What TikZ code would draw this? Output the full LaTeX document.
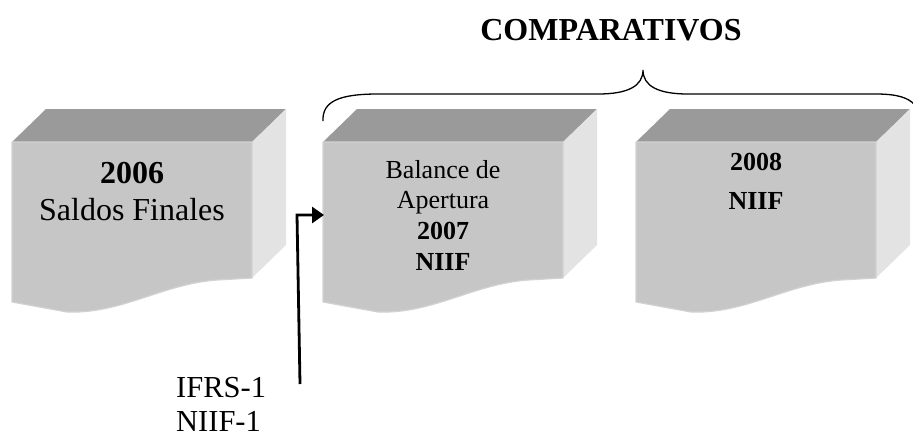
\documentclass[tikz,border=0pt]{standalone}
\usepackage{fontspec}
\setmainfont{Liberation Serif}
\usetikzlibrary{arrows.meta}
\definecolor{frontgray}{HTML}{C6C6C6}
\definecolor{topgray}{HTML}{9A9A9A}
\definecolor{sidegray}{HTML}{E3E3E3}
\definecolor{bevel}{HTML}{D2D2D2}
\tikzset{
  docbox/.pic={
    \fill[topgray] (0,0) -- (34,-33) -- (274,-33) -- (240,0) -- cycle;
    \fill[sidegray] (240,0) -- (274,-33) -- (274,103) -- (240,136) -- cycle;
    \filldraw[fill=frontgray, draw=bevel, line width=1.2pt, line join=round]
      (0,0) -- (240,0) -- (240,136) -- (205,138)
      .. controls (150,142) and (110,172) .. (55,170) -- (0,160) -- cycle;
  },
  big/.style={font=\fontsize{32}{36}\selectfont, inner sep=0pt, anchor=base},
  mid/.style={font=\fontsize{26}{30}\selectfont, inner sep=0pt, anchor=base},
  lbl/.style={font=\fontsize{30.5}{35}\selectfont, inner sep=0pt, anchor=base west},
  conn/.style={line width=2.8pt, line join=miter, -{Triangle[length=12pt,width=16pt]}},
  bracestyle/.style={line width=1.3pt}
}
\begin{document}
\begin{tikzpicture}[x=1pt, y=-1pt]
\useasboundingbox (0,0) rectangle (913,437);
% boxes
\pic at (12,142) {docbox};
\pic at (323,142) {docbox};
\pic at (636,142) {docbox};
% box texts
\node[big, font=\fontsize{32}{36}\selectfont\bfseries] (t2006) at (132,183) {2006};
\node[big] (tsaldos) at (132,220) {Saldos Finales};
\node[mid] (tbal) at (443,178) {Balance de};
\node[mid] (tap) at (443,208) {Apertura};
\node[mid, font=\fontsize{26}{30}\selectfont\bfseries] (t2007) at (443,239) {2007};
\node[mid, font=\fontsize{26}{30}\selectfont\bfseries] (tniif1) at (443,270) {NIIF};
\node[mid, font=\fontsize{26}{30}\selectfont\bfseries] (t2008) at (756,170) {2008};
\node[mid, font=\fontsize{26}{30}\selectfont\bfseries] (tniif2) at (756,209) {NIIF};
% title
\node[big, font=\fontsize{32}{36}\selectfont\bfseries] (title) at (611,40) {COMPARATIVOS};
% brace
\draw[bracestyle] (323,121) .. controls (322,101) and (340,94) .. (378,94)
  -- (598,94) .. controls (628,94) and (643,86) .. (643,70)
  .. controls (643,86) and (658,94) .. (688,94)
  -- (876,94) .. controls (898,94) and (908,98) .. (914,104);
% IFRS label and arrow
\node[lbl] (ifrs) at (176,397) {IFRS-1};
\node[lbl] (niif) at (176,431) {NIIF-1};
\coordinate (astart) at (300,384);
\coordinate (abend) at (297,215);
\coordinate (b2w) at (324,215);
\draw[conn] (astart) -- (abend) -- (b2w);
\end{tikzpicture}
\end{document}
